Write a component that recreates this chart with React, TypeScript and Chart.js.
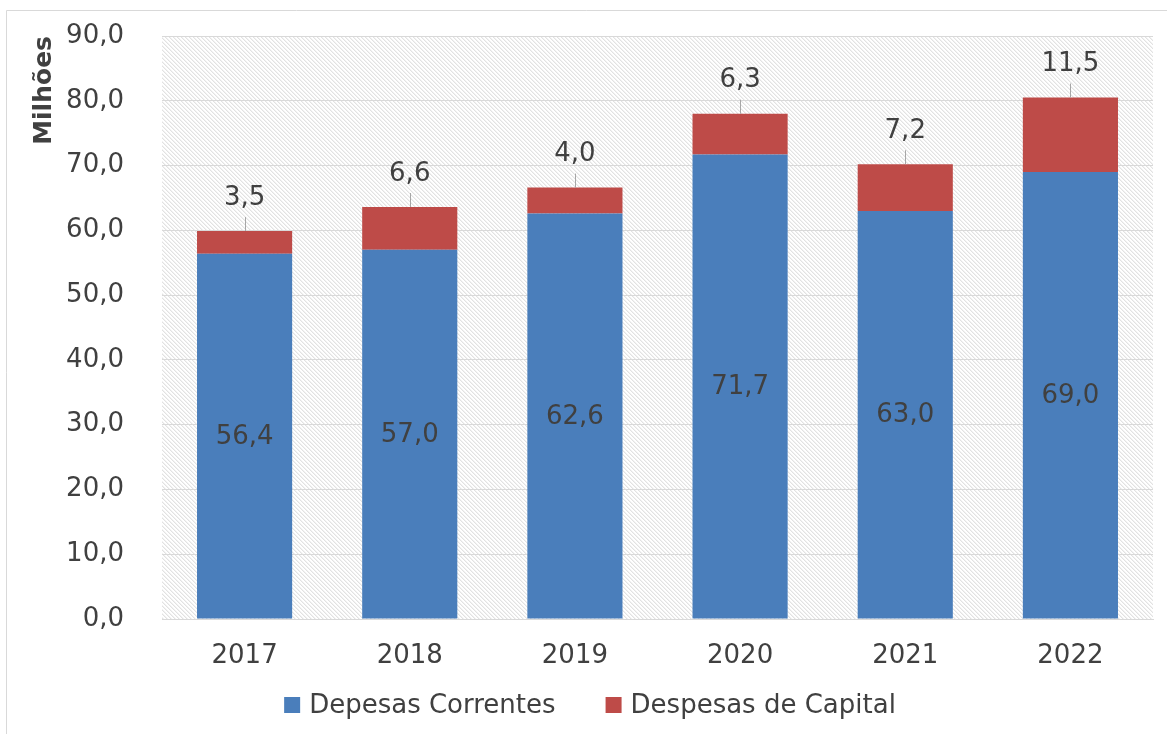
import React, { useEffect, useRef } from 'react';
import { Chart, registerables } from 'chart.js';

Chart.register(...registerables);

const categories = ['2017', '2018', '2019', '2020', '2021', '2022'];
const correntes = [56.4, 57.0, 62.6, 71.7, 63.0, 69.0];
const capital = [3.5, 6.6, 4.0, 6.3, 7.2, 11.5];
const seriesNames = ['Depesas Correntes', 'Despesas de Capital'];
const yMin = 0;
const yMax = 90;
const yStep = 10;

const FONT = "'DejaVu Sans', Verdana, sans-serif";
const TEXT = '#404040';
const GRID = '#d9d9d9';
const BLUE = '#4a7ebb';
const RED = '#be4b48';

const fmt = (v: number) => v.toFixed(1).replace('.', ',');

export default function App() {
  const ref = useRef<HTMLCanvasElement | null>(null);

  useEffect(() => {
    document.body.style.margin = '0';
    const canvas = ref.current!;
    const ctx = canvas.getContext('2d')!;

    const pc = document.createElement('canvas');
    pc.width = 4;
    pc.height = 4;
    const pctx = pc.getContext('2d')!;
    pctx.fillStyle = '#ffffff';
    pctx.fillRect(0, 0, 4, 4);
    pctx.fillStyle = '#e2e2e2';
    for (let i = 0; i < 4; i++) pctx.fillRect(i, i, 1, 1);
    pctx.fillStyle = '#f2f2f2';
    for (let i = 0; i < 4; i++) pctx.fillRect((i + 1) % 4, i, 1, 1);
    const pattern = ctx.createPattern(pc, 'repeat');

    const background = {
      id: 'background',
      beforeDraw(chart: any) {
        const c = chart.ctx;
        const a = chart.chartArea;
        c.save();
        c.fillStyle = '#ffffff';
        c.fillRect(0, 0, chart.width, chart.height);
        c.strokeStyle = GRID;
        c.lineWidth = 1;
        c.beginPath();
        c.moveTo(6.5, chart.height);
        c.lineTo(6.5, 10.5);
        c.lineTo(chart.width, 10.5);
        c.stroke();
        if (pattern) {
          c.fillStyle = pattern;
          c.fillRect(a.left, a.top, a.right - a.left, a.bottom - a.top);
        }
        c.restore();
      },
    };

    const labels = {
      id: 'valueLabels',
      afterDatasetsDraw(chart: any) {
        const c = chart.ctx;
        c.save();
        c.font = `26px ${FONT}`;
        c.fillStyle = TEXT;
        c.textAlign = 'center';
        c.textBaseline = 'middle';
        const m0 = chart.getDatasetMeta(0);
        m0.data.forEach((bar: any, i: number) => {
          c.fillText(fmt(correntes[i]), bar.x, (bar.y + bar.base) / 2 + 1);
        });
        const m1 = chart.getDatasetMeta(1);
        m1.data.forEach((bar: any, i: number) => {
          c.strokeStyle = '#a6a6a6';
          c.lineWidth = 1;
          c.beginPath();
          c.moveTo(Math.round(bar.x) + 0.5, bar.y);
          c.lineTo(Math.round(bar.x) + 0.5, bar.y - 14);
          c.stroke();
          c.fillText(fmt(capital[i]), bar.x, bar.y - 33);
        });
        c.restore();
      },
    };

    const legend = {
      id: 'customLegend',
      afterDraw(chart: any) {
        const c = chart.ctx;
        c.save();
        c.font = `26px ${FONT}`;
        c.textBaseline = 'middle';
        c.textAlign = 'left';
        const colors = [BLUE, RED];
        const box = 16;
        const gapText = 9;
        const gapItem = 50;
        const widths = seriesNames.map((n) => c.measureText(n).width);
        const total = widths.reduce((s, w) => s + box + gapText + w, 0) + gapItem * (seriesNames.length - 1);
        let x = 590 - total / 2;
        const y = 705;
        seriesNames.forEach((n, i) => {
          c.fillStyle = colors[i];
          c.fillRect(x, y - box / 2, box, box);
          c.fillStyle = TEXT;
          c.fillText(n, x + box + gapText, y + 1);
          x += box + gapText + widths[i] + gapItem;
        });
        c.restore();
      },
    };

    const chart = new Chart(canvas, {
      type: 'bar',
      data: {
        labels: categories,
        datasets: [
          { label: seriesNames[0], data: correntes, backgroundColor: BLUE },
          { label: seriesNames[1], data: capital, backgroundColor: RED },
        ],
      },
      options: {
        responsive: false,
        devicePixelRatio: 1,
        animation: false,
        layout: { padding: { top: 36, right: 14, left: 0, bottom: 0 } },
        plugins: {
          legend: { display: false },
          tooltip: { enabled: false },
        },
        datasets: {
          bar: { barPercentage: 0.576, categoryPercentage: 1 },
        },
        scales: {
          x: {
            stacked: true,
            grid: { display: false, drawTicks: false },
            border: { display: true, color: GRID },
            ticks: { color: TEXT, font: { family: FONT, size: 26 }, padding: 22 },
            afterFit(scale: any) {
              scale.height = 115;
              scale.paddingLeft = 0;
              scale.paddingRight = 0;
            },
          },
          y: {
            stacked: true,
            min: yMin,
            max: yMax,
            grid: { color: GRID, drawTicks: false },
            border: { display: false },
            ticks: {
              stepSize: yStep,
              color: TEXT,
              font: { family: FONT, size: 26 },
              padding: 38,
              callback: (v: any) => fmt(Number(v)),
            },
            title: {
              display: true,
              text: 'Milhões',
              align: 'end',
              color: TEXT,
              font: { family: FONT, size: 25, weight: 'bold' },
              padding: { top: 29, bottom: 0 },
            },
            afterFit(scale: any) {
              scale.width = 162;
              scale.paddingTop = 0;
              scale.paddingBottom = 0;
            },
          },
        },
      },
      plugins: [background, labels, legend],
    } as any);

    return () => chart.destroy();
  }, []);

  return (
    <div style={{ width: 1167, height: 734 }}>
      <canvas ref={ref} width={1167} height={734} style={{ display: 'block' }} />
    </div>
  );
}
